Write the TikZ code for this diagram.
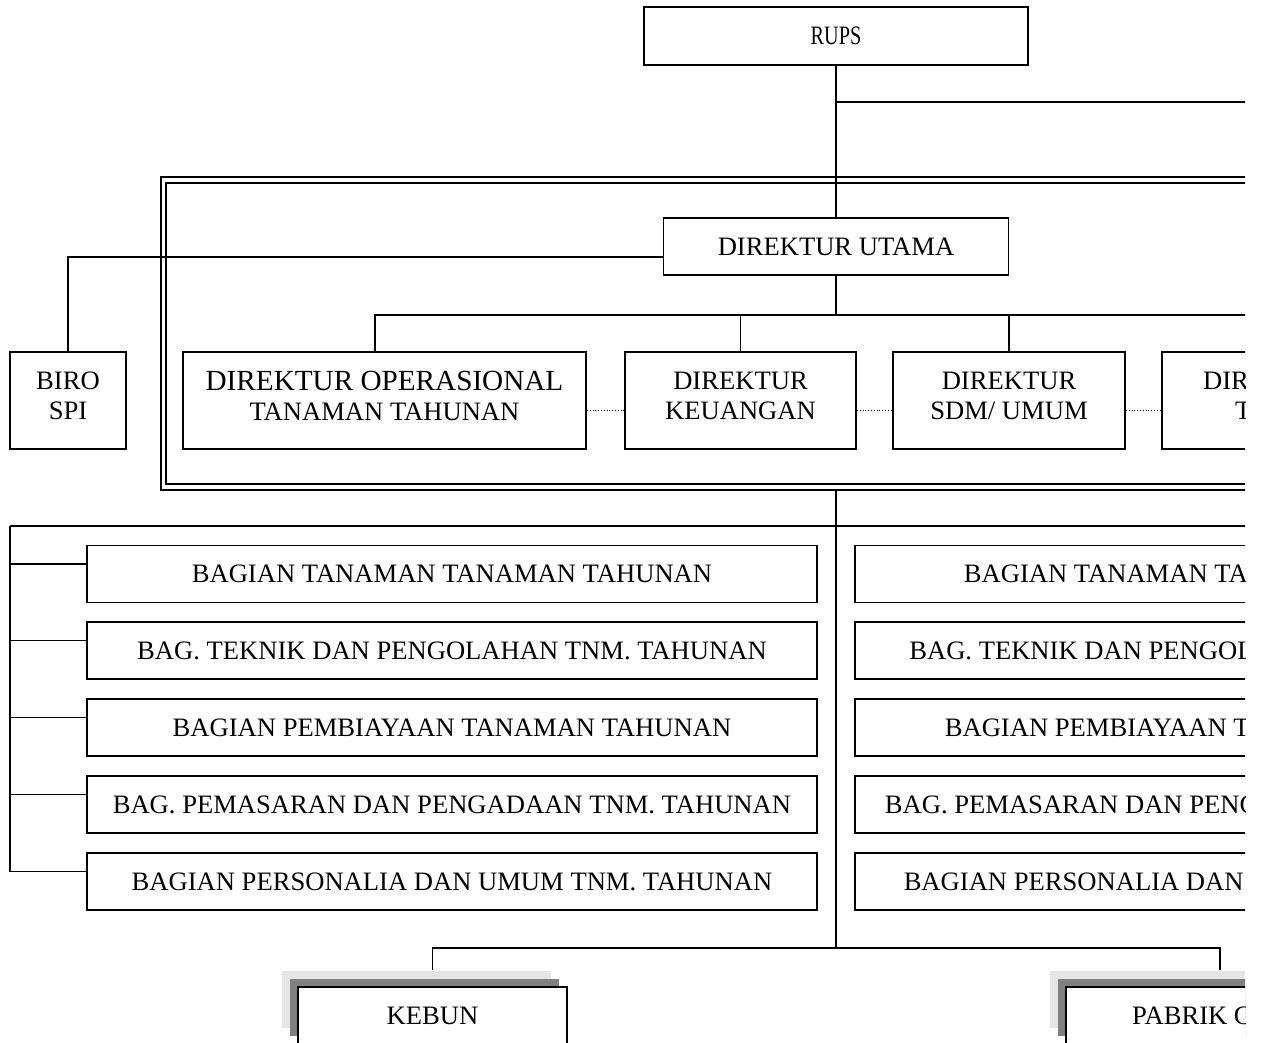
\documentclass[tikz,border=0pt]{standalone}
\usepackage{fontspec}
\setmainfont{Liberation Serif}
\usetikzlibrary{shadows}
\newcommand\naik{\\[-10pt]\mbox{}}

\begin{document}
\begin{tikzpicture}[x=0.5pt,y=-0.5pt,line width=0.9pt,
    orgbox/.style={draw,fill=white,align=center,inner sep=0pt,font=\fontsize{13.3}{15}\selectfont},
    tier/.style={orgbox,general shadow={fill=gray!20,shadow xshift=-8pt,shadow yshift=8pt},
        general shadow={fill=gray,shadow xshift=-4pt,shadow yshift=4pt}},
    dots/.style={line width=0.4pt,densely dotted}]
    \useasboundingbox (0,0) rectangle (1261,1042);
    \clip (0,0) rectangle (1245,1042);

    % double frame of the direksi
    \draw[line width=1pt](161,177) rectangle (1300,490);
    \draw[line width=1pt](166,183) rectangle (1300,484);

    \node[orgbox,minimum width=192pt,minimum height=29pt](rups) at (836,36){\scalebox{0.76}[1]{RUPS}};
    \node[orgbox,minimum width=172.5pt,minimum height=28.5pt](dirut) at (836,246.5){DIREKTUR UTAMA};
    \node[orgbox,minimum width=58pt,minimum height=48.5pt](biro) at (68,400.5){BIRO\\SPI\naik};
    \node[orgbox,minimum width=201.5pt,minimum height=48.5pt](dirop) at (384.5,400.5){{\fontsize{14.6}{16}\selectfont DIREKTUR OPERASIONAL}\\TANAMAN TAHUNAN\naik};
    \node[orgbox,minimum width=115.5pt,minimum height=48.5pt](dirkeu) at (740.5,400.5){DIREKTUR\\KEUANGAN\naik};
    \node[orgbox,minimum width=116pt,minimum height=48.5pt](dirsdm) at (1009,400.5){DIREKTUR\\SDM/ UMUM\naik};
    \node[orgbox,minimum width=204pt,minimum height=48.5pt](dirts) at (1366,400.5){DIREKTUR OPERASIONAL\\TANAMAN SEMUSIM\naik};

    \coordinate(kom) at (1300,102);
    \coordinate(dbus) at (836,315);
    \coordinate(dend) at (1300,315);
    \coordinate(frm) at (836,490);
    \coordinate(lbus) at (10,526);
    \coordinate(rend) at (1300,526);
    \coordinate(hub) at (836,948);

    \draw(rups.south)--(rups.south |- dirut.north);
    \draw(rups.south |- kom)--(kom);
    \draw([yshift=-5.25pt]dirut.west)-|(biro.north);
    \draw(dirut.south)--(dbus);
    \draw([xshift=-4.75pt]dirop.north)|-(dend);
    \draw(dirkeu.north)--(dirkeu.north |- dbus);
    \draw(dirsdm.north)--(dirsdm.north |- dbus);
    \draw(dirts.north)--(dirts.north |- dbus);

    \draw[dots]([yshift=-4.75pt]dirop.east)--([yshift=-4.75pt]dirkeu.west);
    \draw[dots]([yshift=-4.75pt]dirkeu.east)--([yshift=-4.75pt]dirsdm.west);
    \draw[dots]([yshift=-4.75pt]dirsdm.east)--([yshift=-4.75pt]dirts.west);

    \draw(frm)--(hub);
    \draw(lbus)--(rend);

    \foreach \y/\kiri/\kanan [count=\i] in {
        574/{BAGIAN TANAMAN TANAMAN TAHUNAN}/{BAGIAN TANAMAN TANAMAN SEMUSIM},
        650.5/{BAG. TEKNIK DAN PENGOLAHAN TNM. TAHUNAN}/{BAG. TEKNIK DAN PENGOLAHAN TNM. SEMUSIM},
        727.5/{BAGIAN PEMBIAYAAN TANAMAN TAHUNAN}/{BAGIAN PEMBIAYAAN TANAMAN SEMUSIM},
        804.5/{BAG. PEMASARAN DAN PENGADAAN TNM. TAHUNAN}/{BAG. PEMASARAN DAN PENGADAAN TNM. SEMUSIM},
        881.5/{BAGIAN PERSONALIA DAN UMUM TNM. TAHUNAN}/{BAGIAN PERSONALIA DAN UMUM TNM. SEMUSIM}}{
        \node[orgbox,minimum width=365pt,minimum height=28.5pt](bagl\i) at (452,\y){\kiri};
        \node[orgbox,minimum width=365pt,minimum height=28.5pt](bagr\i) at (1220,\y){\kanan};
        \coordinate(tap\i) at ([yshift=5pt]bagl\i.west);
        \draw(tap\i)--(lbus |- tap\i);
    }
    \draw(lbus)|-(tap5);

    \node[tier,minimum width=134.5pt,minimum height=28.5pt](kebun) at (432.5,1015.5){KEBUN};
    \node[tier,minimum width=154pt,minimum height=28.5pt](pabrik) at (1220,1015.5){PABRIK GULA};
    \draw([yshift=8pt]kebun.north)|-(hub)-|([yshift=8pt]pabrik.north);
\end{tikzpicture}
\end{document}
